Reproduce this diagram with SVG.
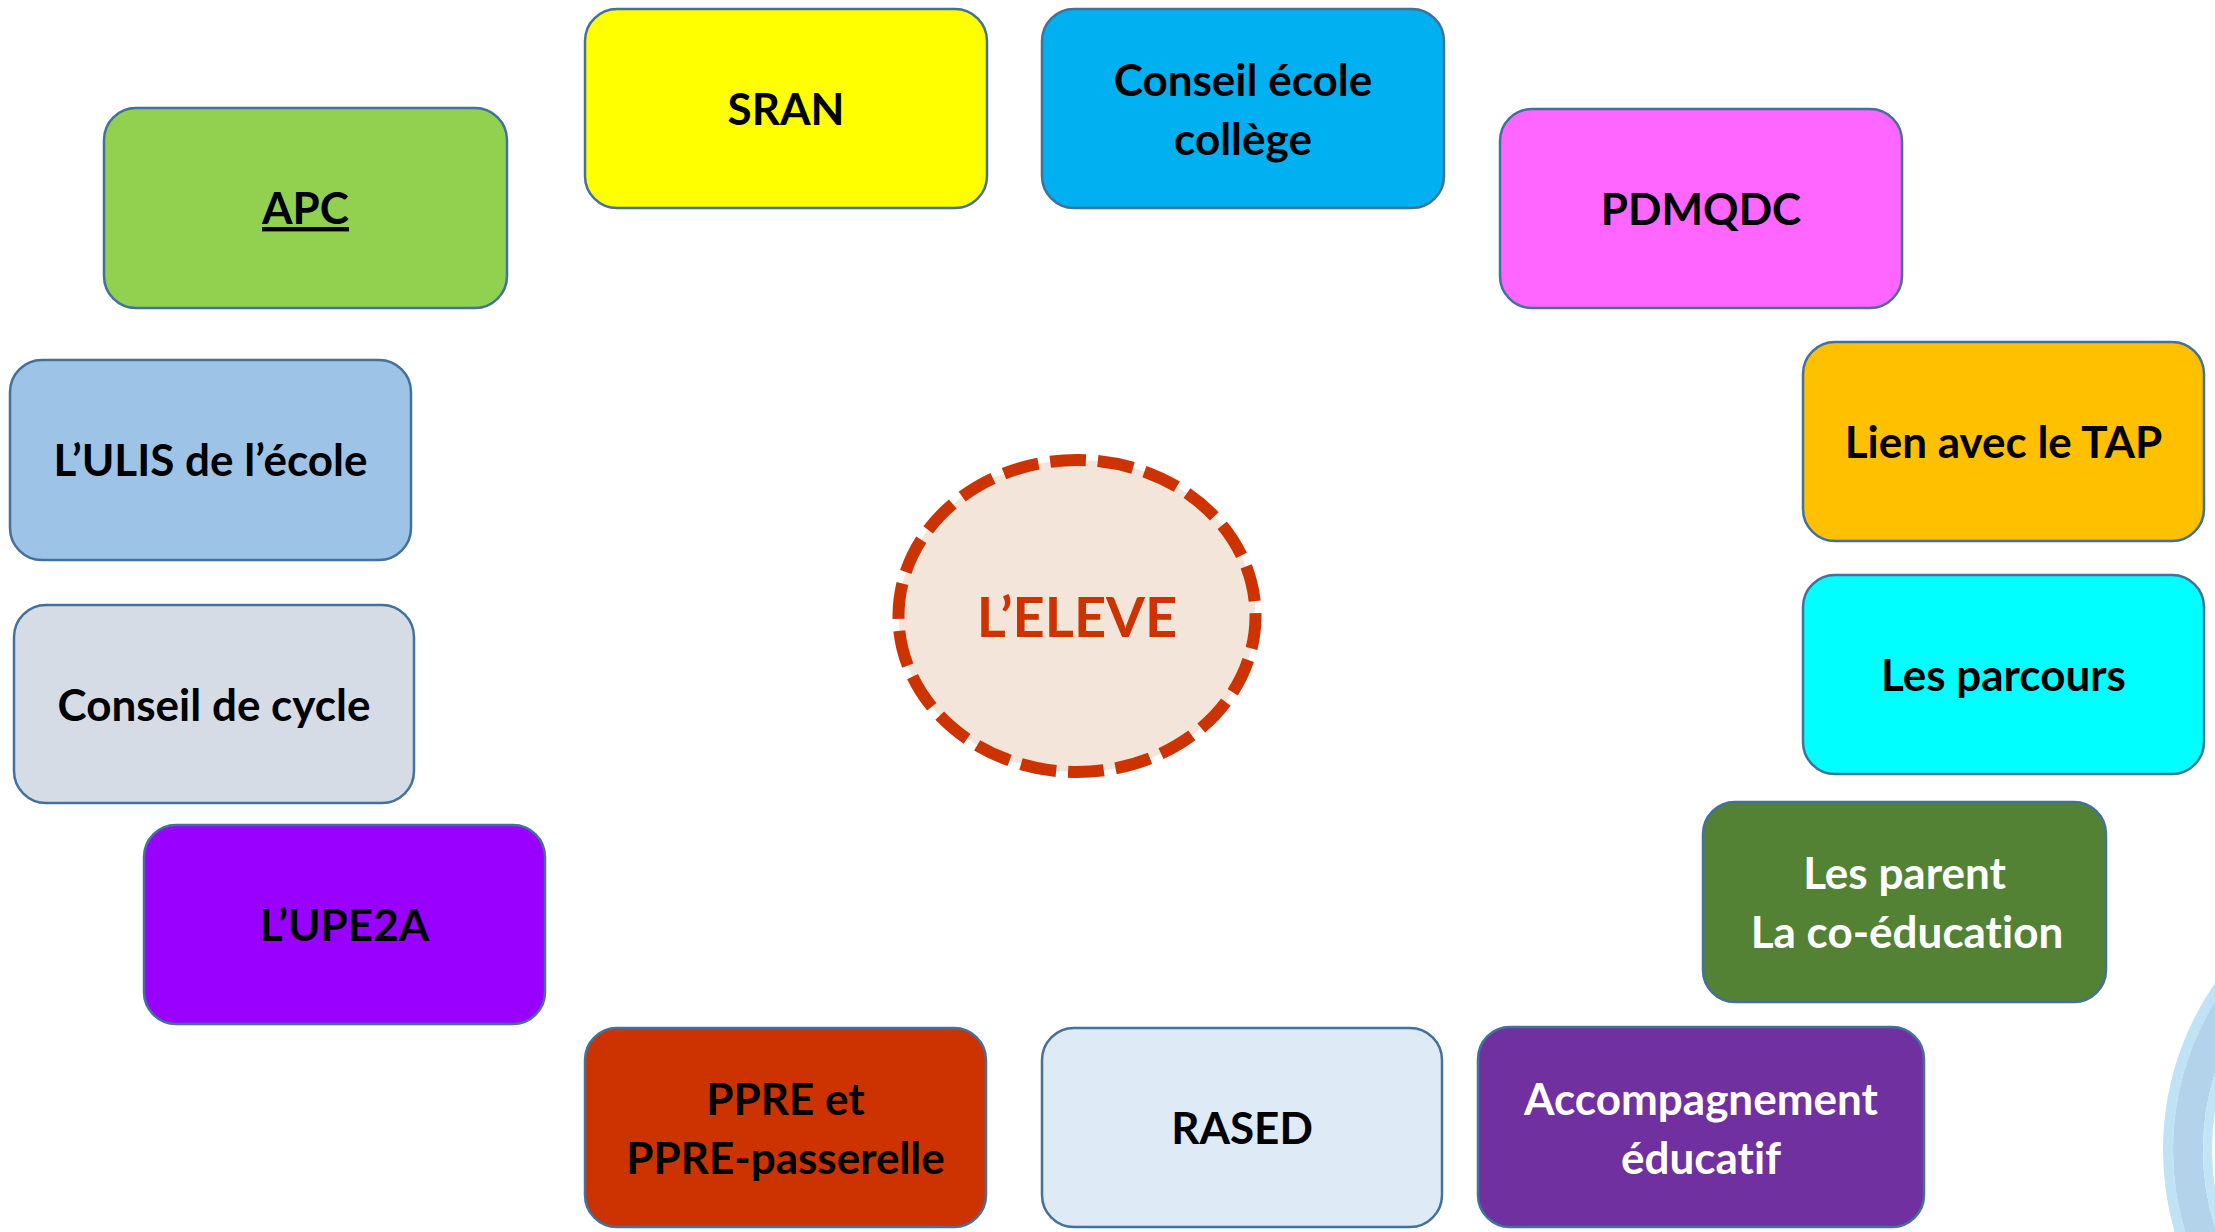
<svg xmlns="http://www.w3.org/2000/svg" width="2215" height="1232" viewBox="0 0 2215 1232">
<style>
.box{stroke:#41719C;stroke-width:2.5}
.t{font-family:Lato,"Liberation Sans",sans-serif;font-weight:700;font-size:44px;text-anchor:middle;fill:#000;font-variant-ligatures:none}
.w{fill:#fff}
</style>
<rect width="2215" height="1232" fill="#fff"/>
<g id="deco">
<circle cx="2457" cy="1150" r="289" fill="none" stroke="#BFE2F4" stroke-width="10"/>
<circle cx="2457" cy="1150" r="269" fill="none" stroke="#B3D3EB" stroke-width="30"/>
<circle cx="2457" cy="1150" r="249.5" fill="none" stroke="#C2E4F5" stroke-width="9"/>
</g>
<g id="connectors"></g>
<g id="center">
<ellipse cx="1077" cy="616" rx="178.5" ry="156" fill="#F3E5D9" stroke="#CC3300" stroke-width="12" pathLength="1056" stroke-dasharray="36 12" stroke-dashoffset="3"/>
<text x="1077" y="637" class="t" style="font-size:56px;fill:#CC3300">L’ELEVE</text>
</g>
<g id="sran"><rect class="box" x="585" y="9" width="402" height="199" rx="32" fill="#FFFF00"/><text class="t" x="786" y="125">SRAN</text></g>
<g id="conseil-ecole-college"><rect class="box" x="1042" y="9" width="402" height="199" rx="32" fill="#00B0F0"/><text class="t" x="1243" y="96">Conseil école</text><text class="t" x="1243" y="155">collège</text></g>
<g id="pdmqdc"><rect class="box" x="1500" y="109" width="402" height="199" rx="32" fill="#FF66FF"/><text class="t" x="1701" y="225">PDMQDC</text></g>
<g id="apc"><rect class="box" x="104" y="108" width="403" height="200" rx="32" fill="#92D050"/><text class="t" x="305.5" y="224" text-decoration="underline">APC</text></g>
<g id="tap"><rect class="box" x="1803" y="342" width="401" height="199" rx="32" fill="#FFC000"/><text class="t" x="2003.5" y="458">Lien avec le TAP</text></g>
<g id="ulis"><rect class="box" x="10" y="360" width="401" height="200" rx="32" fill="#9DC3E6"/><text class="t" x="210.5" y="476">L’ULIS de l’école</text></g>
<g id="parcours"><rect class="box" x="1803" y="575" width="401" height="199" rx="32" fill="#00FFFF"/><text class="t" x="2003.5" y="691">Les parcours</text></g>
<g id="conseil-cycle"><rect class="box" x="14" y="605" width="400" height="198" rx="32" fill="#D6DCE5"/><text class="t" x="214" y="721">Conseil de cycle</text></g>
<g id="upe2a"><rect class="box" x="144" y="825" width="401" height="199" rx="32" fill="#9900FF"/><text class="t" x="344.5" y="941">L’UPE2A</text></g>
<g id="parents"><rect class="box" x="1703" y="802" width="403" height="200" rx="32" fill="#548235"/><text class="t w" x="1904.5" y="889">Les parent</text><text class="t w" x="1907" y="948">La co-éducation</text></g>
<g id="ppre"><rect class="box" x="585" y="1028" width="401" height="199" rx="32" fill="#CC3300"/><text class="t" x="785.5" y="1115">PPRE et</text><text class="t" x="785.5" y="1174">PPRE-passerelle</text></g>
<g id="rased"><rect class="box" x="1042" y="1028" width="400" height="199" rx="32" fill="#DEEBF7"/><text class="t" x="1242" y="1144">RASED</text></g>
<g id="accompagnement"><rect class="box" x="1478" y="1027" width="446" height="200" rx="32" fill="#7030A0"/><text class="t w" x="1701" y="1115">Accompagnement</text><text class="t w" x="1701" y="1174">éducatif</text></g>
</svg>
